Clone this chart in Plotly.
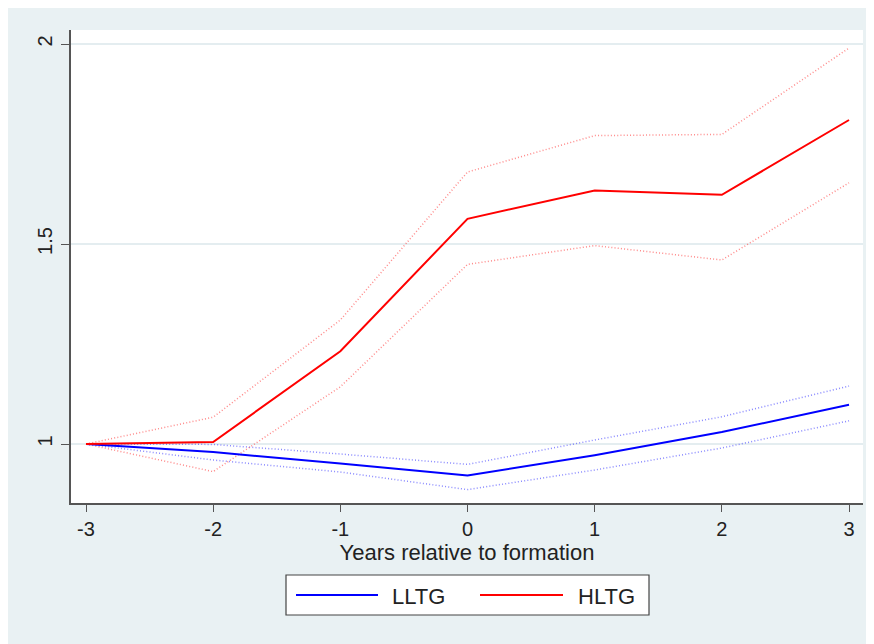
import plotly.graph_objects as go

# event time
years = [-3, -2, -1, 0, 1, 2, 3]
year_labels = ['-3', '-2', '-1', '0', '1', '2', '3']

# low long-term growth portfolio
lltg_name = 'LLTG'
lltg = [1.0, 0.980, 0.951, 0.921, 0.972, 1.030, 1.098]
lltg_hi = [1.0, 0.999, 0.975, 0.949, 1.010, 1.068, 1.145]
lltg_lo = [1.0, 0.960, 0.930, 0.886, 0.935, 0.990, 1.058]

# high long-term growth portfolio
hltg_name = 'HLTG'
hltg = [1.0, 1.005, 1.232, 1.563, 1.634, 1.623, 1.810]
hltg_hi = [1.0, 1.067, 1.310, 1.680, 1.771, 1.774, 1.990]
hltg_lo = [1.0, 0.931, 1.143, 1.449, 1.496, 1.460, 1.653]

y_ticks = [1, 1.5, 2]
y_ticktext = ['1', '1.5', '2']

BG = '#e9f1f3'
FONT = 'Liberation Sans, Arial, sans-serif'
DOT = '1px,2.2px'

fig = go.Figure()

# confidence bands (dotted)
fig.add_trace(go.Scatter(x=years, y=lltg_hi, mode='lines', showlegend=False,
                         line=dict(color='rgba(60,60,255,0.6)', width=1.5, dash=DOT)))
fig.add_trace(go.Scatter(x=years, y=lltg_lo, mode='lines', showlegend=False,
                         line=dict(color='rgba(60,60,255,0.6)', width=1.5, dash=DOT)))
fig.add_trace(go.Scatter(x=years, y=hltg_hi, mode='lines', showlegend=False,
                         line=dict(color='rgba(255,60,60,0.6)', width=1.5, dash=DOT)))
fig.add_trace(go.Scatter(x=years, y=hltg_lo, mode='lines', showlegend=False,
                         line=dict(color='rgba(255,60,60,0.6)', width=1.5, dash=DOT)))

# point estimates
fig.add_trace(go.Scatter(x=years, y=lltg, mode='lines', name=lltg_name, showlegend=False,
                         line=dict(color='#0000ff', width=2)))
fig.add_trace(go.Scatter(x=years, y=hltg, mode='lines', name=hltg_name, showlegend=False,
                         line=dict(color='#ff0000', width=2)))

# plot area in screenshot pixels (page adds an 8px body margin)
pw, ph = 792, 473

def px_x(p):
    return (p - 71) / pw

def px_y(p):
    return (503 - p) / ph

# hand-drawn legend box (Stata style, long line keys)
shapes = [
    dict(type='rect', xref='paper', yref='paper', layer='above',
         x0=px_x(286), x1=px_x(649), y0=px_y(615), y1=px_y(575),
         fillcolor='white', line=dict(color='#444444', width=1.2)),
    dict(type='line', xref='paper', yref='paper', layer='above',
         x0=px_x(296), x1=px_x(378), y0=px_y(595), y1=px_y(595),
         line=dict(color='#0000ff', width=2)),
    dict(type='line', xref='paper', yref='paper', layer='above',
         x0=px_x(480), x1=px_x(563), y0=px_y(595), y1=px_y(595),
         line=dict(color='#ff0000', width=2)),
]

annotations = [
    dict(text=lltg_name, xref='paper', yref='paper', x=px_x(390), y=px_y(596),
         xanchor='left', yanchor='middle', showarrow=False,
         font=dict(family=FONT, size=22, color='#222222')),
    dict(text=hltg_name, xref='paper', yref='paper', x=px_x(576), y=px_y(596),
         xanchor='left', yanchor='middle', showarrow=False,
         font=dict(family=FONT, size=22, color='#222222')),
]

fig.update_layout(
    width=874, height=644, autosize=False,
    margin=dict(l=63, r=19, t=22, b=149),
    paper_bgcolor=BG, plot_bgcolor='white',
    font=dict(family=FONT, size=20, color='#222222'),
    showlegend=False,
    shapes=shapes, annotations=annotations,
    xaxis=dict(range=[-3.118, 3.11], tickvals=years, ticktext=year_labels,
               showgrid=False, zeroline=False,
               showline=True, linecolor='#555555', linewidth=1.5,
               ticks='outside', ticklen=7, tickcolor='#555555', tickwidth=1.3,
               title=dict(text='Years relative to formation', standoff=6,
                          font=dict(size=22))),
    yaxis=dict(range=[0.8525, 2.035], tickvals=y_ticks, ticktext=y_ticktext,
               tickangle=-90, ticklabelstandoff=1,
               showgrid=True, gridcolor='#e4edf0', gridwidth=1.5,
               zeroline=False, showline=True, linecolor='#555555', linewidth=1.5,
               ticks='outside', ticklen=8, tickcolor='#555555', tickwidth=1.3),
)

fig.write_html('out.html')
